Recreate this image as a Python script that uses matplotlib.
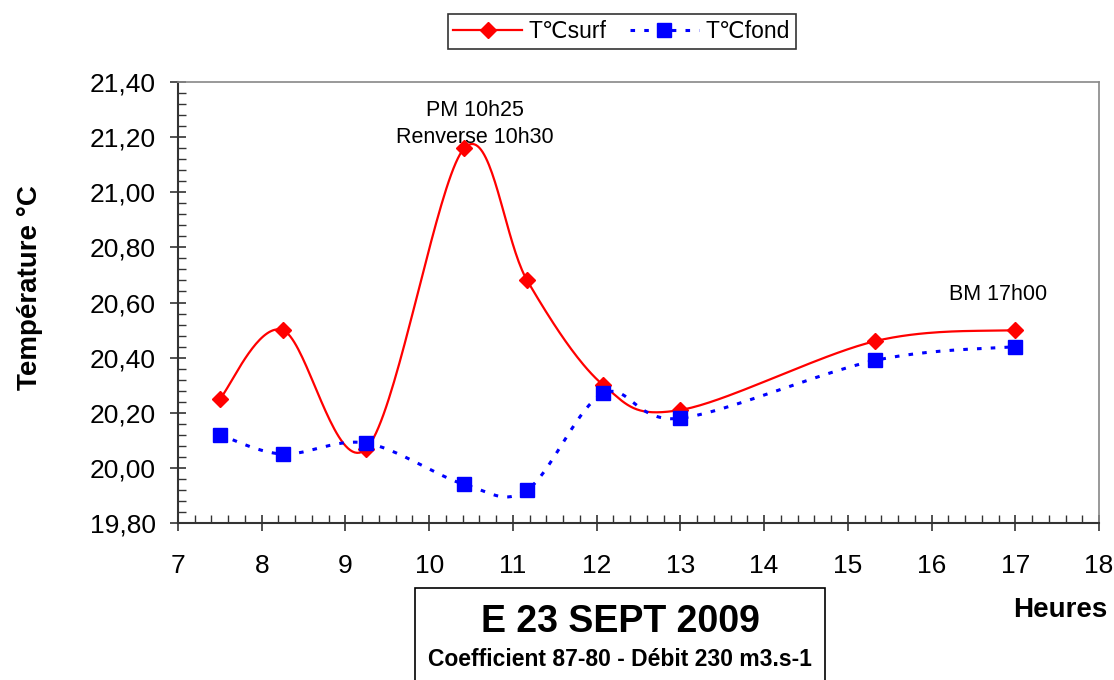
import numpy as np
import matplotlib
matplotlib.use("Agg")
import matplotlib.pyplot as plt
from matplotlib.ticker import MultipleLocator, FuncFormatter
from matplotlib.patches import Rectangle

plt.rcParams['font.family'] = ['Liberation Sans', 'DejaVu Sans']

# heures de mesure (decimal) et temperatures
heures = [7.5, 8.25, 9.25, 10.42, 11.17, 12.08, 13.0, 15.33, 17.0]
t_surf = [20.25, 20.50, 20.07, 21.16, 20.68, 20.30, 20.21, 20.46, 20.50]
t_fond = [20.12, 20.05, 20.09, 19.94, 19.92, 20.27, 20.18, 20.39, 20.44]

xmin, xmax = 7, 18
ymin, ymax = 19.8, 21.4


def smooth(x, y, n=40):
    # courbe lissee type Excel (catmull-rom / bezier) en espace ecran
    sx, sy = 921.0 / (xmax - xmin), 441.0 / (ymax - ymin)
    p = np.column_stack([np.asarray(x) * sx, np.asarray(y) * sy])
    p = np.vstack([p[0], p, p[-1]])
    out = []
    t = np.linspace(0, 1, n)[:, None]
    for i in range(1, len(p) - 2):
        p0, p1, p2, p3 = p[i - 1], p[i], p[i + 1], p[i + 2]
        c1 = p1 + (p2 - p0) / 6
        c2 = p2 - (p3 - p1) / 6
        seg = ((1 - t) ** 3) * p1 + 3 * ((1 - t) ** 2) * t * c1 + 3 * (1 - t) * t ** 2 * c2 + t ** 3 * p2
        out.append(seg if i == 1 else seg[1:])
    out = np.vstack(out)
    return out[:, 0] / sx, out[:, 1] / sy


fig = plt.figure(figsize=(11.14, 6.8), dpi=100)
ax = fig.add_axes([178 / 1114, 1 - 523 / 680, 921 / 1114, 441 / 680])

xs, ys = smooth(heures, t_surf)
ax.plot(xs, ys, color='#ff0000', lw=1.6, zorder=3)
ax.plot(heures, t_surf, ls='none', marker='D', ms=8, color='#ff0000', zorder=4)

xf, yf = smooth(heures, t_fond)
ax.plot(xf, yf, color='#0000ff', lw=2.2, ls=(0, (1.5, 3)), zorder=3)
ax.plot(heures, t_fond, ls='none', marker='s', ms=10, color='#0000ff', zorder=5)

ax.set_xlim(xmin, xmax)
ax.set_ylim(ymin, ymax)
ax.xaxis.set_major_locator(MultipleLocator(1))
ax.xaxis.set_minor_locator(MultipleLocator(0.2))
ax.yaxis.set_major_locator(MultipleLocator(0.2))
ax.yaxis.set_minor_locator(MultipleLocator(0.04))
ax.yaxis.set_major_formatter(FuncFormatter(lambda v, p: f"{v:.2f}".replace('.', ',')))

ax.tick_params(which='major', direction='inout', length=12, width=1.2, labelsize=19, color='#333333')
ax.tick_params(which='minor', direction='in', length=6, width=1.0, color='#333333')
ax.tick_params(axis='x', which='major', pad=16)
ax.tick_params(axis='y', which='major', pad=10)

for s in ['left', 'bottom']:
    ax.spines[s].set_color('#333333')
    ax.spines[s].set_linewidth(1.5)
for s in ['top', 'right']:
    ax.spines[s].set_color('#888888')
    ax.spines[s].set_linewidth(1.2)

ax.set_ylabel('Température °C', fontsize=20, fontweight='bold')
ax.yaxis.set_label_coords(-0.147, 0.535)

ax.text(10.55, 21.297, 'PM 10h25', ha='center', va='center', fontsize=15.5)
ax.text(10.55, 21.198, 'Renverse 10h30', ha='center', va='center', fontsize=15.5)
ax.text(16.8, 20.63, 'BM 17h00', ha='center', va='center', fontsize=15.5)

fig.text(1060 / 1114, 1 - 610 / 680, 'Heures', ha='center', va='center', fontsize=20, fontweight='bold')

# cadre du titre
fig.patches.append(Rectangle((415 / 1114, -0.02), 410 / 1114, 0.02 + 92 / 680,
                             transform=fig.transFigure, fill=False, edgecolor='black', lw=1.2))
fig.text(620 / 1114, 1 - 622 / 680, 'E 23 SEPT 2009', ha='center', va='center', fontsize=27, fontweight='bold')
fig.text(620 / 1114, 1 - 660 / 680, 'Coefficient 87-80 - Débit 230 m3.s-1', ha='center', va='center',
         fontsize=16.5, fontweight='bold')

# legende
h1, = ax.plot([], [], color='#ff0000', lw=1.6, marker='D', ms=8)
h2, = ax.plot([], [], color='#0000ff', lw=2.2, ls=(0, (1.5, 3)), marker='s', ms=10)
leg = fig.legend([h1, h2], ['T℃surf', 'T℃fond'], loc='center', bbox_to_anchor=(621.5 / 1114, 1 - 31.5 / 680),
                 ncol=2, fontsize=16.5, frameon=True, fancybox=False, edgecolor='black', handlelength=3.0,
                 borderpad=0.25, columnspacing=1.0, handletextpad=0.3)
leg.get_frame().set_linewidth(1.2)

fig.savefig('out.png', dpi=100)
